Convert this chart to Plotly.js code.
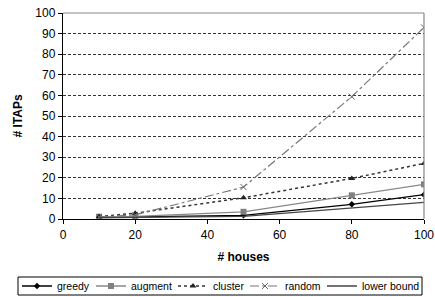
<!DOCTYPE html>
<html><head><meta charset="utf-8">
<script src="https://cdn.plot.ly/plotly-3.0.1.min.js"></script>
<style>html,body{margin:0;padding:0;background:#fff}</style>
</head><body>
<div id="chart" style="width:435px;height:297px"></div>
<script>
const houses = [10, 20, 50, 80, 100];
const greedy = [0.8, 1, 1.8, 7.1, 11.8];
const augment = [1.1, 1.3, 3.5, 11.5, 16.8];
const cluster = [1.2, 2.8, 10.3, 19.7, 27];
const random = [1, 2, 15.5, 59.4, 93];
const lowerBound = [0.5, 0.8, 1.3, 5.5, 8.1];
const yTicks = [0,10,20,30,40,50,60,70,80,90,100];
const xTicks = [0,20,40,60,80,100];

const traces = [
  {x: houses, y: greedy, name: 'greedy', mode: 'lines+markers', legend: 'legend',
   line: {color: '#000000', width: 1.3}, marker: {symbol: 'diamond', size: 5, color: '#000000'}},
  {x: houses, y: augment, name: 'augment', mode: 'lines+markers', legend: 'legend2',
   line: {color: '#888888', width: 1.3}, marker: {symbol: 'square', size: 6, color: '#808080'}},
  {x: houses, y: cluster, name: 'cluster', mode: 'lines+markers', legend: 'legend3',
   line: {color: '#333333', width: 1.5, dash: 'dot'}, marker: {symbol: 'triangle-up', size: 6, color: '#222222'}},
  {x: houses, y: random, name: 'random', mode: 'lines+markers', legend: 'legend4',
   line: {color: '#777777', width: 1.2, dash: 'dashdot'}, marker: {symbol: 'x-thin', size: 6, color: '#777777', line: {color: '#666666', width: 1}}},
  {x: houses, y: lowerBound, name: 'lower bound', mode: 'lines', legend: 'legend5',
   line: {color: '#444444', width: 1.3}}
];

function leg(px) {
  return {orientation: 'h', xref: 'container', yref: 'container', x: px / 435, xanchor: 'left',
    y: 1 - 286 / 297, yanchor: 'middle', bgcolor: 'rgba(0,0,0,0)', borderwidth: 0,
    font: {size: 10.5}, itemwidth: 30};
}

const layout = {
  width: 435, height: 297,
  margin: {l: 63, r: 11, t: 13, b: 78},
  paper_bgcolor: '#fff', plot_bgcolor: '#fff',
  font: {family: 'Liberation Sans, Arial, sans-serif', size: 12, color: '#000'},
  showlegend: true,
  legend: leg(17), legend2: leg(91), legend3: leg(173), legend4: leg(245), legend5: leg(322),
  xaxis: {range: [0, 100], tickvals: xTicks, ticks: 'outside', ticklen: 4, tickcolor: '#000',
    showline: true, linecolor: '#000', linewidth: 1.2, showgrid: false, zeroline: false,
    tickfont: {size: 12}, automargin: false,
    title: {text: '<b># houses</b>', font: {size: 12}, standoff: 12}},
  yaxis: {range: [0, 100], tickvals: yTicks, ticks: 'outside', ticklen: 4, tickcolor: '#000',
    showline: true, linecolor: '#000', linewidth: 1.2, showgrid: true, gridcolor: '#000',
    griddash: '3px,2px', gridwidth: 0.8, zeroline: false, tickfont: {size: 12}, automargin: false,
    title: {text: '<b># ITAPs</b>', font: {size: 12}, standoff: 10}},
  shapes: [
    {type: 'line', xref: 'paper', yref: 'paper', x0: 0, x1: 1, y0: 1, y1: 1, line: {color: '#888', width: 1.2}},
    {type: 'line', xref: 'paper', yref: 'paper', x0: 1, x1: 1, y0: 0, y1: 1, line: {color: '#888', width: 1.2}},
    {type: 'rect', xref: 'paper', yref: 'paper', x0: (18 - 63) / 361, x1: (422 - 63) / 361,
     y0: (219 - 295) / 206, y1: (219 - 277) / 206, line: {color: '#000', width: 1}}
  ]
};
Plotly.newPlot('chart', traces, layout, {displayModeBar: false, staticPlot: true});
</script>
</body></html>
